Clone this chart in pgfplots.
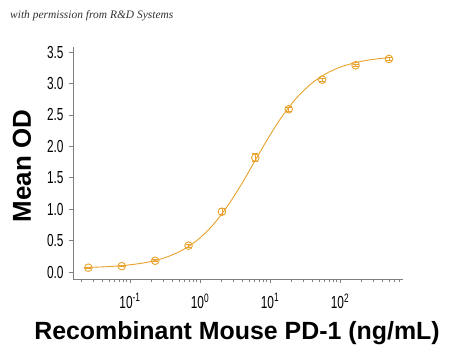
\documentclass[border=0pt]{standalone}
\usepackage{fontspec}
\setmainfont{Liberation Sans}
\newfontfamily\tickfont[FakeStretch=0.68]{Liberation Sans}
\newfontfamily\notefont{Liberation Serif}
\usepackage{pgfplots}
\pgfplotsset{compat=1.18}
\definecolor{curve}{RGB}{232,162,45}
\definecolor{axgray}{RGB}{128,128,128}
\begin{document}
\begin{tikzpicture}[x=1bp,y=1bp]
\useasboundingbox (-73,-77) rectangle (377,279);
\begin{axis}[
  at={(0,0)}, anchor=south west,
  scale only axis, width=330bp, height=232bp,
  xmode=log, log basis x=10,
  xmin=0.01535, xmax=794,
  ymin=-0.11, ymax=3.58,
  axis x line*=bottom, axis y line*=left,
  axis line style={axgray, line width=0.9bp},
  every tick/.style={axgray, line width=0.8bp},
  tick align=outside,
  major tick length=4bp, minor tick length=3bp,
  xtick={0.1,1,10,100},
  xticklabels={10\textsuperscript{-1},10\textsuperscript{0},10\textsuperscript{1},10\textsuperscript{2}},
  minor xtick={0.02,0.03,0.04,0.05,0.06,0.07,0.08,0.09,0.2,0.3,0.4,0.5,0.6,0.7,0.8,0.9,2,3,4,5,6,7,8,9,20,30,40,50,60,70,80,90,200,300,400,500,600,700},
  ytick={0,0.5,1,1.5,2,2.5,3,3.5},
  yticklabel style={font=\tickfont\fontsize{17.5}{17.5}\selectfont, xshift=-2bp, /pgf/number format/.cd, assume math mode=true, fixed, fixed zerofill, precision=1},
  xticklabel style={font=\tickfont\fontsize{17.5}{17.5}\selectfont, yshift=-7bp},
  clip=false,
]
\addplot[curve, line width=0.9bp, smooth] coordinates {
(0.0254,0.074) (0.0398,0.082) (0.0631,0.095) (0.1,0.116) (0.1585,0.147)
(0.2512,0.196) (0.398,0.271) (0.631,0.383) (1,0.544) (1.585,0.769)
(2.512,1.061) (3.981,1.412) (6.310,1.798) (10,2.179) (15.85,2.519)
(25.12,2.796) (39.81,3.006) (63.1,3.156) (100,3.258) (158.5,3.326)
(251.2,3.371) (398.1,3.400) (500,3.410)};
\addplot[curve, only marks, mark=o, mark size=3.8bp, mark options={line width=0.9bp},
  error bars/.cd, y dir=both, y explicit,
  error bar style={line width=0.8bp}, error mark options={rotate=90, mark size=3bp, line width=0.8bp}]
coordinates {
(0.0254,0.07) +- (0,0.01)
(0.0762,0.095) +- (0,0.01)
(0.229,0.18) +- (0,0.015)
(0.686,0.42) +- (0,0.02)
(2.06,0.96) +- (0,0.05)
(6.17,1.82) +- (0,0.06)
(18.5,2.59) +- (0,0.03)
(55.6,3.06) +- (0,0.02)
(166.7,3.29) +- (0,0.015)
(500,3.39) +- (0,0.02)};
\end{axis}
\node[anchor=base west, font=\notefont\itshape\fontsize{11.5}{12}\selectfont, text=black!80, inner sep=0] at (-63,261) {with permission from R\&D Systems};
\node[rotate=90, font=\bfseries\fontsize{26}{26}\selectfont, inner sep=0] at (-51,113) {Mean OD};
\node[font=\bfseries\fontsize{25}{25}\selectfont, inner sep=0] at (164,-54) {Recombinant Mouse PD-1 (ng/mL)};
\end{tikzpicture}
\end{document}
